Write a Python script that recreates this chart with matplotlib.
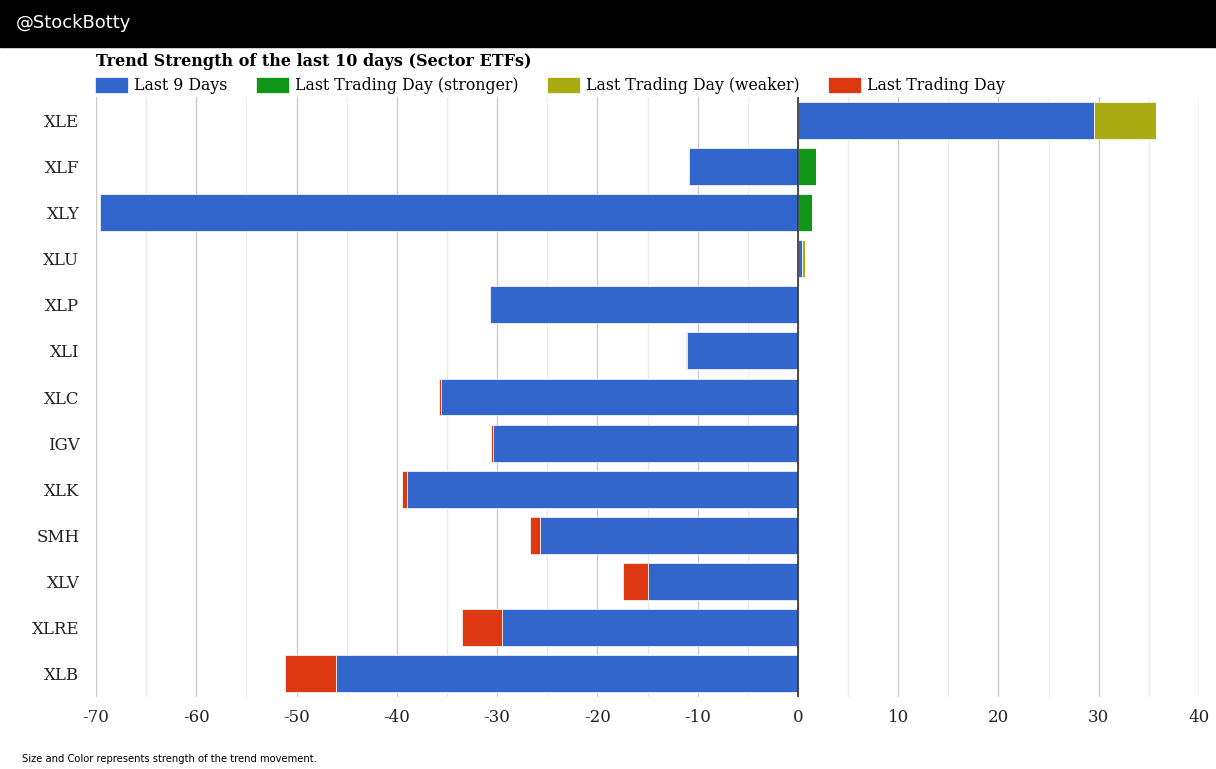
import numpy as np
import matplotlib.pyplot as plt
from matplotlib.patches import Rectangle

tickers = ['XLE', 'XLF', 'XLY', 'XLU', 'XLP', 'XLI', 'XLC', 'IGV', 'XLK', 'SMH', 'XLV', 'XLRE', 'XLB']
last9 = [29.5, -10.9, -69.6, 0.4, -30.7, -11.1, -35.6, -30.4, -39.0, -25.7, -15.0, -29.5, -46.1]
stronger = [0, 1.8, 1.4, 0, 0.1, 0, 0, 0, 0, 0, 0, 0, 0]
weaker = [6.2, 0, 0, 0.3, 0, 0, 0, 0, 0, 0, 0, 0, 0]
lastday = [0, 0, 0, 0, 0, -0.1, -0.15, -0.2, -0.5, -1.0, -2.4, -4.0, -5.1]

series = [('Last 9 Days', last9, '#3366cc'),
          ('Last Trading Day (stronger)', stronger, '#109618'),
          ('Last Trading Day (weaker)', weaker, '#aaaa11'),
          ('Last Trading Day', lastday, '#dc3912')]

plt.rcParams['font.family'] = 'DejaVu Serif'

fig = plt.figure(figsize=(12.16, 7.69), dpi=100)
ax = fig.add_axes([96/1216, 1-697/769, 1103/1216, 600/769])

y = np.arange(len(tickers))
pos = np.zeros(len(tickers))
neg = np.zeros(len(tickers))
for name, vals, col in series:
    v = np.array(vals, dtype=float)
    left = np.where(v >= 0, pos, neg)
    ax.barh(y, v, left=left, height=0.8, color=col, edgecolor='white', linewidth=0.5, label=name, zorder=3)
    pos = pos + np.where(v >= 0, v, 0)
    neg = neg + np.where(v < 0, v, 0)

ax.set_xlim(-70, 40)
ax.set_ylim(len(tickers)-0.5, -0.5)
ax.set_xticks(np.arange(-70, 41, 10))
ax.set_xticklabels([str(t) for t in range(-70, 41, 10)])
ax.set_xticks(np.arange(-65, 40, 10), minor=True)
ax.set_yticks(y)
ax.set_yticklabels(tickers)
ax.grid(axis='x', which='major', color='#cccccc', lw=1, zorder=0)
ax.grid(axis='x', which='minor', color='#ebebeb', lw=1, zorder=0)
ax.axvline(0, color='#333333', lw=1.2, zorder=4)
for s in ax.spines.values():
    s.set_visible(False)
ax.tick_params(axis='both', which='both', length=0, labelsize=12, colors='#222222')
ax.tick_params(axis='x', pad=9)
ax.tick_params(axis='y', pad=12)

# black header bar
fig.patches.append(Rectangle((0, 1-47/769), 1, 47/769, transform=fig.transFigure, color='black', zorder=0))
fig.text(16/1216, 1-23/769, '@StockBotty', color='white', fontsize=13, family='DejaVu Sans', va='center')

fig.text(96/1216, 1-62/769, 'Trend Strength of the last 10 days (Sector ETFs)', fontsize=11.5, fontweight='bold', va='center')

ax.legend(ncol=4, loc='lower left', bbox_to_anchor=(-4/1103, 1.0), frameon=False, fontsize=11.3,
          handlelength=2.1, handleheight=1.2, handletextpad=0.4, columnspacing=1.8, borderaxespad=0.2, borderpad=0)

fig.text(22/1216, 1-759/769, 'Size and Color represents strength of the trend movement.', fontsize=7.2,
         family='DejaVu Sans', va='center')

fig.savefig('out.png', dpi=100)
